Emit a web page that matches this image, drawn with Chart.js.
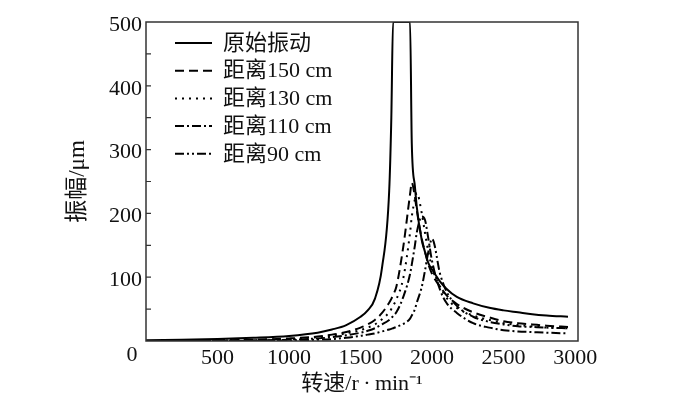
<!DOCTYPE html>
<html>
<head>
<meta charset="utf-8">
<script src="https://cdn.jsdelivr.net/npm/chart.js@4.4.0/dist/chart.umd.min.js"></script>
<style>
    html, body { margin: 0; padding: 0; background: #fff; }
    #wrap { width: 700px; height: 397px; }
</style>
</head>
<body>
<div id="wrap"><canvas id="chart"></canvas></div>
<script>
(function () {
    "use strict";

    // data
    const rpm = [0, 250, 500, 750, 1000, 1200, 1300, 1400, 1500, 1550, 1600, 1650, 1700, 1715, 1727, 1750, 1800, 1846, 1858, 1880, 1893, 1928, 1950, 1974, 2000, 2056, 2100, 2173, 2287, 2400, 2500, 2600, 2700, 2800, 2950];
    const original = [1, 2, 3, 5, 8, 13, 18, 25, 38, 48, 66, 115, 235, 350, 500, 500, 500, 500, 310, 242, 210, 158, 140, 122, 112, 93, 82, 69, 59, 52, 48, 45, 42, 40, 38];
    const dist150 = [0, 0.5, 1, 2, 4, 7, 10, 14, 21, 26, 33, 44, 60, 66, 72, 85, 150, 230, 248, 225, 205, 160, 140, 120, 105, 85, 72, 58, 45, 37, 31, 28, 26, 24, 22];
    const dist130 = [0, 0.3, 1, 1.5, 3, 6, 8, 12, 17, 21, 26, 34, 45, 50, 55, 65, 100, 170, 195, 222, 232, 200, 170, 140, 115, 85, 68, 52, 40, 33, 28, 25, 23, 21, 20];
    const dist110 = [0, 0.2, 0.5, 1, 2, 4, 6, 9, 13, 16, 20, 26, 33, 36, 39, 45, 70, 105, 120, 150, 170, 195, 190, 160, 125, 80, 60, 44, 28, 21, 17, 15, 14, 13, 12];
    const dist90 = [0, 0.1, 0.3, 0.6, 1, 2, 3, 5, 8, 10, 12, 15, 18, 19, 20, 22, 27, 35, 40, 50, 60, 85, 110, 140, 160, 105, 78, 55, 38, 30, 26, 23, 22, 21, 20];

    const seriesLabels = ["原始振动", "距离150 cm", "距离130 cm", "距离110 cm", "距离90 cm"];
    const seriesValues = [original, dist150, dist130, dist110, dist90];
    const seriesDash = [[], [9, 5], [2, 5], [9, 3, 2, 3], [9, 3, 2, 3, 2, 3]];

    const xTickLabels = [500, 1000, 1500, 2000, 2500, 3000];
    const yTickLabels = [100, 200, 300, 400, 500];
    const xTitle = "转速/r\u2009·\u2009min⁻¹";
    const yTitle = "振幅/μm";

    const FONT = '"Liberation Serif", "Noto Sans CJK SC", serif';

    const datasets = seriesValues.map((vals, i) => ({
        label: seriesLabels[i],
        data: rpm.map((r, j) => ({ x: r, y: vals[j] })),
        borderColor: "#000",
        backgroundColor: "#000",
        borderWidth: 2,
        borderDash: seriesDash[i],
        pointRadius: 0,
        cubicInterpolationMode: "monotone",
        fill: false,
    }));

    // frame, inward ticks, tick labels, corner "0" and legend
    const framePlugin = {
        id: "frame",
        afterDraw(chart) {
            const { ctx, chartArea: a, scales } = chart;
            ctx.save();
            ctx.strokeStyle = "#333";
            ctx.lineWidth = 1.5;
            ctx.setLineDash([]);
            ctx.strokeRect(a.left, a.top, a.right - a.left, a.bottom - a.top);

            ctx.lineWidth = 1.2;
            ctx.beginPath();
            scales.x.ticks.forEach((t) => {
                if (t.value <= 0 || t.value % 250 !== 0) return;
                const px = scales.x.getPixelForValue(t.value);
                ctx.moveTo(px, a.bottom);
                ctx.lineTo(px, a.bottom - 5);
            });
            scales.y.ticks.forEach((t) => {
                if (t.value <= 0 || t.value >= 500) return;
                const py = scales.y.getPixelForValue(t.value);
                ctx.moveTo(a.left, py);
                ctx.lineTo(a.left + 5, py);
            });
            ctx.stroke();

            ctx.fillStyle = "#111";
            ctx.font = "22px " + FONT;
            ctx.textAlign = "center";
            ctx.textBaseline = "middle";
            xTickLabels.forEach((v) => {
                ctx.fillText(String(v), scales.x.getPixelForValue(v), a.bottom + 17);
            });
            ctx.fillText("0", a.left - 14, a.bottom + 14);
            ctx.textAlign = "right";
            yTickLabels.forEach((v) => {
                ctx.fillText(String(v), a.left - 4, scales.y.getPixelForValue(v) + 3);
            });

            // legend
            ctx.textAlign = "left";
            chart.data.datasets.forEach((ds, i) => {
                const y = a.top + 21 + i * 27.7;
                ctx.strokeStyle = "#000";
                ctx.lineWidth = 2;
                ctx.setLineDash(ds.borderDash);
                ctx.beginPath();
                ctx.moveTo(a.left + 29, y);
                ctx.lineTo(a.left + 66, y);
                ctx.stroke();
                ctx.setLineDash([]);
                ctx.fillText(ds.label, a.left + 77, y + 1);
            });
            ctx.restore();
        },
    };

    new Chart(document.getElementById("chart"), {
        type: "line",
        data: { datasets: datasets },
        options: {
            responsive: true,
            maintainAspectRatio: false,
            animation: false,
            devicePixelRatio: 1,
            layout: { padding: { top: 22, right: 122, left: 0, bottom: 0 } },
            plugins: {
                legend: { display: false },
                tooltip: { enabled: false },
            },
            scales: {
                x: {
                    type: "linear",
                    min: 0,
                    max: 3020,
                    afterFit: (s) => { s.height = 56; },
                    grid: { display: false, drawTicks: false },
                    border: { display: false },
                    ticks: {
                        stepSize: 250,
                        autoSkip: false,
                        maxRotation: 0,
                        // labels are drawn by the frame plugin
                        callback: () => "",
                    },
                    title: {
                        display: true,
                        text: xTitle,
                        color: "#111",
                        padding: { top: 0, bottom: 0 },
                        font: { family: FONT, size: 22 },
                    },
                },
                y: {
                    min: 0,
                    max: 500,
                    afterFit: (s) => { s.width = 146; },
                    grid: { display: false, drawTicks: false },
                    border: { display: false },
                    ticks: {
                        stepSize: 50,
                        autoSkip: false,
                        callback: () => "",
                    },
                    title: {
                        display: true,
                        text: yTitle,
                        color: "#111",
                        padding: { top: 64, bottom: 0 },
                        font: { family: FONT, size: 23 },
                    },
                },
            },
        },
        plugins: [framePlugin],
    });
})();
</script>
</body>
</html>
